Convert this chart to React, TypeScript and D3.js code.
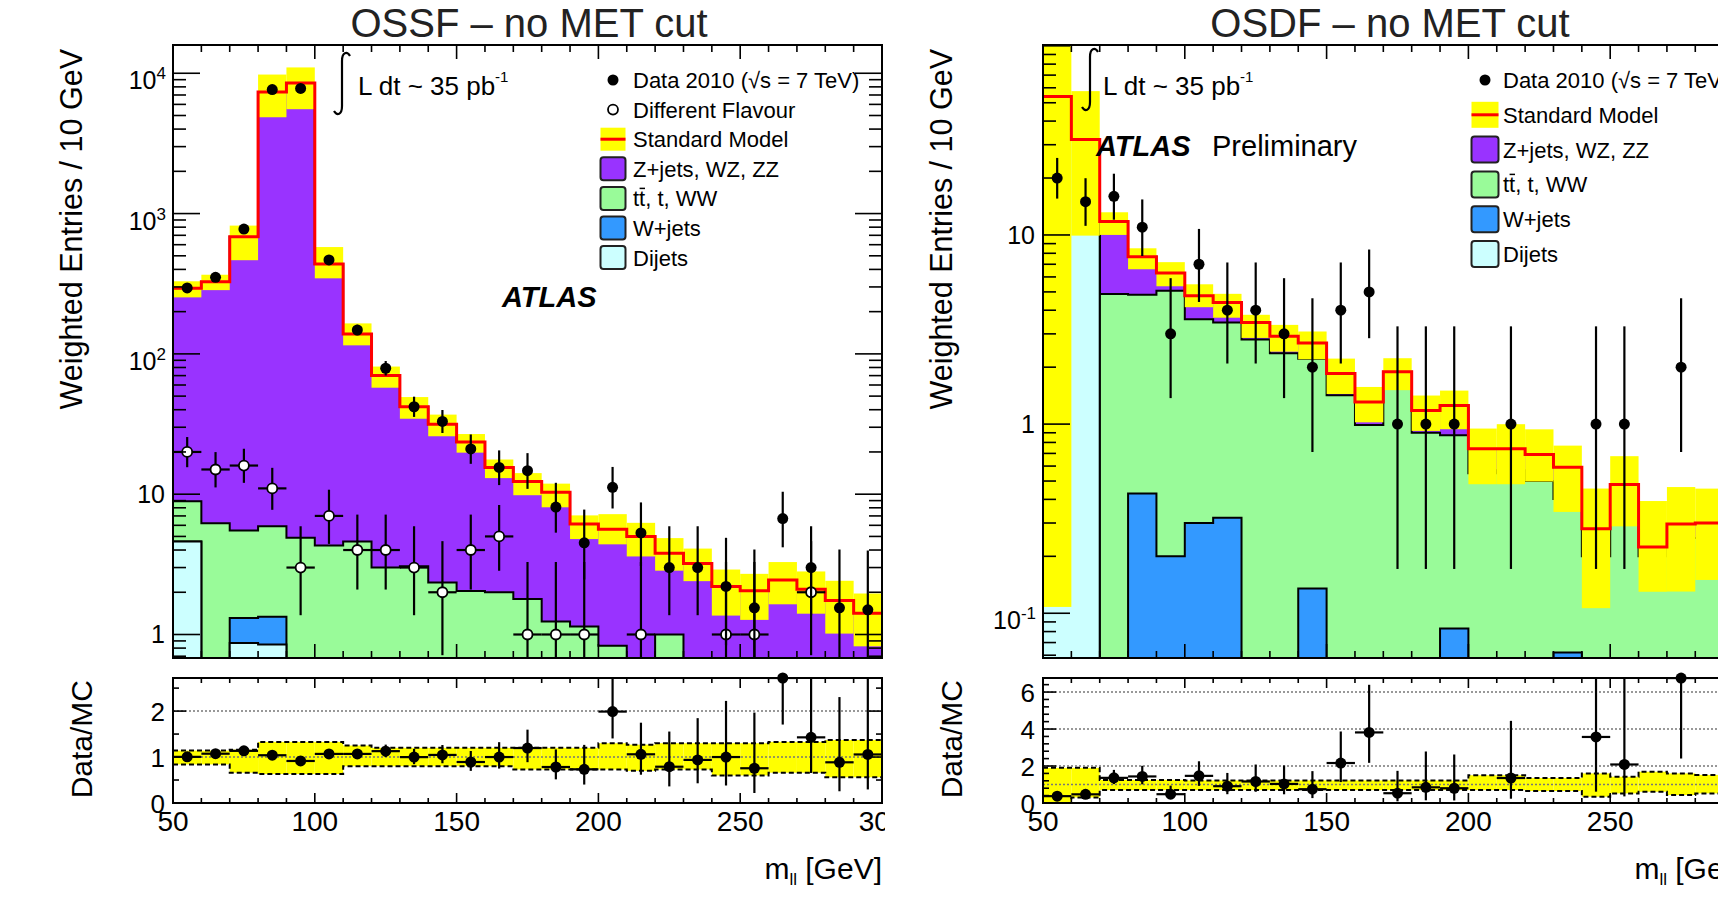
import React from 'react';
import * as d3 from 'd3';

// 10 GeV bins, lower edges
const binLow = [50, 60, 70, 80, 90, 100, 110, 120, 130, 140, 150, 160, 170, 180, 190, 200, 210, 220, 230, 240, 250, 260, 270, 280, 290];

// OSSF (left plot)
const ossfData = [295, 351, 776, 7650, 7800, 467, 148, 79, 42, 33, 21, 15.5, 14.7, 8.1, 4.5, 11.2, 5.3, 3, 3, 2.2, 1.55, 6.7, 3, 1.55, 1.5];
const ossfDijets = [4.6, 0, 0.87, 0.85, 0, 0, 0, 0, 0, 0, 0, 0, 0, 0, 0, 0, 0, 0, 0, 0, 0, 0, 0, 0, 0];
const ossfWjets = [0, 0, 0.44, 0.49, 0, 0, 0, 0, 0, 0, 0, 0, 0, 0, 0, 0, 0, 0, 0, 0, 0, 0, 0, 0, 0];
const ossfTop = [4.3, 6.2, 4.19, 4.56, 4.9, 4.3, 4.6, 3.0, 3.07, 2.35, 2.04, 2.0, 1.79, 1.24, 1.14, 0.83, 0.4, 1.0, 0.4, 0.3, 0.3, 0.25, 0.25, 0.2, 0.2];
const ossfZjets = [285, 321, 678.5, 7354, 8525, 433, 134, 67, 39, 29.2, 21.5, 13.5, 10.5, 9.1, 5.0, 4.8, 4.6, 2.8, 2.8, 1.9, 1.75, 2.2, 1.85, 1.55, 1.22];
// SM uncertainty band, relative (main pad, ratio pad)
const ossfErrUp = [0.12, 0.12, 0.2, 0.33, 0.29, 0.32, 0.19, 0.16, 0.17, 0.17, 0.14, 0.14, 0.15, 0.15, 0.15, 0.28, 0.25, 0.28, 0.28, 0.32, 0.32, 0.34, 0.34, 0.38, 0.38];
const ossfErrDn = [0.14, 0.13, 0.32, 0.34, 0.35, 0.21, 0.17, 0.18, 0.18, 0.18, 0.16, 0.16, 0.2, 0.22, 0.22, 0.22, 0.28, 0.25, 0.25, 0.38, 0.38, 0.33, 0.33, 0.42, 0.42];
const ossfRatioUp = [0.14, 0.14, 0.16, 0.33, 0.33, 0.33, 0.25, 0.2, 0.2, 0.2, 0.2, 0.2, 0.2, 0.2, 0.2, 0.3, 0.27, 0.3, 0.3, 0.3, 0.3, 0.33, 0.33, 0.37, 0.37];
const ossfRatioDn = [0.16, 0.16, 0.34, 0.37, 0.37, 0.37, 0.2, 0.2, 0.2, 0.2, 0.2, 0.2, 0.27, 0.27, 0.27, 0.27, 0.3, 0.27, 0.27, 0.4, 0.4, 0.34, 0.34, 0.44, 0.44];

// OSDF (right plot), also shown as "Different Flavour" on the left
const osdfData = [20, 15, 16, 11, 3, 7, 4, 4, 3, 2, 4, 5, 1, 1, 1, 0, 1, 0, 0, 1, 1, 0, 2, 0, 0];
const osdfDijets = [54, 32, 0, 0, 0, 0, 0, 0, 0, 0, 0, 0, 0, 0, 0, 0, 0, 0, 0, 0, 0, 0, 0, 0, 0];
const osdfWjets = [0, 0, 0, 0.43, 0.2, 0.3, 0.32, 0, 0, 0.135, 0, 0, 0, 0, 0.083, 0, 0, 0, 0.062, 0, 0, 0, 0, 0, 0];
const osdfTop = [0, 0, 4.87, 4.4, 4.87, 3.28, 3.12, 2.8, 2.37, 2.08, 1.42, 0.99, 1.54, 0.9, 0.79, 0.55, 0.57, 0.5, 0.34, 0.2, 0.42, 0.2, 0.25, 0.25, 0.25];
const osdfZjets = [0, 0, 6.9, 2.83, 1.23, 1.19, 0.96, 0.64, 0.54, 0.47, 0.43, 0.32, 0.35, 0.28, 0.38, 0.19, 0.17, 0.19, 0.19, 0.08, 0.06, 0.024, 0.046, 0.05, 0.05];
const osdfErrUp = [0.9, 0.8, 0.12, 0.11, 0.14, 0.15, 0.11, 0.1, 0.15, 0.15, 0.2, 0.2, 0.18, 0.2, 0.2, 0.28, 0.35, 0.36, 0.3, 0.63, 0.41, 0.75, 0.57, 0.52, 0.52];
const osdfErrDn = [0.998, 0.69, 0.15, 0.14, 0.15, 0.13, 0.17, 0.17, 0.17, 0.18, 0.22, 0.22, 0.2, 0.22, 0.25, 0.35, 0.35, 0.28, 0.42, 0.62, 0.4, 0.42, 0.56, 0.5, 0.5];
const osdfRatioUp = [0.9, 0.9, 0.25, 0.25, 0.25, 0.22, 0.22, 0.22, 0.22, 0.22, 0.22, 0.22, 0.22, 0.22, 0.22, 0.5, 0.5, 0.35, 0.35, 0.6, 0.42, 0.69, 0.6, 0.52, 0.52];
const osdfRatioDn = [0.998, 0.7, 0.3, 0.3, 0.3, 0.3, 0.3, 0.3, 0.3, 0.3, 0.3, 0.3, 0.3, 0.3, 0.3, 0.3, 0.3, 0.35, 0.35, 0.66, 0.48, 0.39, 0.57, 0.48, 0.48];

const ratioTicksL = [0, 0.5, 1, 1.5, 2, 2.5];
const ratioMajorL = [0, 1, 2];
const ratioTicksR = [0, 0.4, 0.8, 1.2, 1.6, 2, 2.4, 2.8, 3.2, 3.6, 4, 4.4, 4.8, 5.2, 5.6, 6, 6.4];
const ratioMajorR = [0, 2, 4, 6];

const FONT = '"Liberation Sans", Arial, Helvetica, sans-serif';
const W = 1718, H = 897;
const PLOT_W = 709;
const MAIN_TOP = 45, MAIN_BOT = 658, RAT_TOP = 678, RAT_BOT = 803;
const COL = { zjets: '#9933ff', top: '#99fb99', wjets: '#3399ff', dijets: '#ccffff', band: '#ffff00', sm: '#ff0000' };

// 68% Poisson interval (Wilson-Hilferty approx. of Garwood)
const poissonLo = (n: number) => {
  if (n <= 0) return 0;
  const k = 2 * n, a = 2 / (9 * k);
  return 0.5 * k * Math.pow(1 - a - Math.sqrt(a), 3);
};
const poissonHi = (n: number) => {
  const k = 2 * n + 2, a = 2 / (9 * k);
  return 0.5 * k * Math.pow(1 - a + Math.sqrt(a), 3);
};

function Integral({ x, y1, y2 }: { x: number; y1: number; y2: number }) {
  const d = `M${x + 8},${y1 + 3} C${x + 5},${y1 - 2} ${x},${y1 - 1} ${x},${y1 + 8} L${x},${y2 - 8} C${x},${y2 + 1} ${x - 5},${y2 + 2} ${x - 8},${y2 - 3}`;
  return <path d={d} fill="none" stroke="#000" strokeWidth={2.2} />;
}

type LegendCfg = { x: number; textX: number; y0: number; step: number; bw: number; bh: number };

type PanelProps = {
  id: string;
  x0: number;
  title: string;
  titleX: number;
  clip: [number, number];
  yDomain: [number, number];
  rDomain: [number, number];
  rTicks: number[];
  rMajor: number[];
  data: number[];
  diff?: number[];
  dijets: number[];
  wjets: number[];
  top: number[];
  zjets: number[];
  errUp: number[];
  errDn: number[];
  ratioUp: number[];
  ratioDn: number[];
  legend: LegendCfg;
  children?: React.ReactNode;
};

function Panel(p: PanelProps) {
  const x = d3.scaleLinear().domain([50, 300]).range([p.x0, p.x0 + PLOT_W]);
  const y = d3.scaleLog().domain(p.yDomain).range([MAIN_BOT, MAIN_TOP]);
  const r = d3.scaleLinear().domain(p.rDomain).range([RAT_BOT, RAT_TOP]);
  const rc = d3.scaleLinear().domain(p.rDomain).range([RAT_BOT, RAT_TOP]).clamp(true);
  const x1 = p.x0 + PLOT_W;
  const yc = (v: number) => (v > 0 ? Math.max(MAIN_TOP - 30, Math.min(MAIN_BOT + 30, y(v))) : MAIN_BOT + 30);

  const rows = binLow.map((lo, i) => ({ dijets: p.dijets[i], wjets: p.wjets[i], top: p.top[i], zjets: p.zjets[i] }));
  const series = d3.stack<any>().keys(['dijets', 'wjets', 'top', 'zjets'])(rows);
  const total = series[3].map((d) => d[1]);
  const layerColors = [COL.dijets, COL.wjets, COL.top, COL.zjets];

  const fillPath = (cum: number[]) => {
    let d = `M${x(50)},${MAIN_BOT + 30}`;
    cum.forEach((v, i) => {
      const yy = yc(v);
      d += `L${x(binLow[i])},${yy}L${x(binLow[i] + 10)},${yy}`;
    });
    return d + `L${x(300)},${MAIN_BOT + 30}Z`;
  };
  const stepLine = (vals: number[], f: (v: number) => number) =>
    vals.map((v, i) => `${i ? 'L' : 'M'}${x(binLow[i])},${f(v)}L${x(binLow[i] + 10)},${f(v)}`).join('');

  const xTicks = x.ticks(25);
  const yTicks = y.ticks();
  const isPow10 = (v: number) => Math.abs(Math.log10(v) - Math.round(Math.log10(v))) < 1e-6;

  const logLabel = (v: number, key: number) => {
    const e = Math.round(Math.log10(v));
    const ty = y(v);
    if (ty < MAIN_TOP + 4) return null;
    if (e === 0 || e === 1) {
      return (
        <text key={key} x={p.x0 - 8} y={ty + 9} textAnchor="end" fontSize={25}>
          {e === 0 ? '1' : '10'}
        </text>
      );
    }
    return (
      <text key={key} x={p.x0 - 7} y={ty + 16} textAnchor="end" fontSize={25}>
        10<tspan dy={-10} fontSize={17}>{e}</tspan>
      </text>
    );
  };

  const lg = p.legend;
  const entries: { kind: string; label: string; color?: string; bar?: boolean }[] = [
    { kind: 'data', label: 'Data 2010 (\u221As = 7 TeV)' },
    ...(p.diff ? [{ kind: 'open', label: 'Different Flavour' }] : []),
    { kind: 'sm', label: 'Standard Model' },
    { kind: 'box', color: COL.zjets, label: 'Z+jets, WZ, ZZ' },
    { kind: 'box', color: COL.top, label: 'tt, t, WW', bar: true },
    { kind: 'box', color: COL.wjets, label: 'W+jets' },
    { kind: 'box', color: COL.dijets, label: 'Dijets' },
  ];

  return (
    <g clipPath={`url(#${p.id}-all)`} fontFamily={FONT}>
      <defs>
        <clipPath id={`${p.id}-all`}>
          <rect x={p.clip[0]} y={0} width={p.clip[1] - p.clip[0]} height={H} />
        </clipPath>
        <clipPath id={`${p.id}-main`}>
          <rect x={p.x0} y={MAIN_TOP} width={PLOT_W} height={MAIN_BOT - MAIN_TOP} />
        </clipPath>
        <clipPath id={`${p.id}-rat`}>
          <rect x={p.x0} y={RAT_TOP} width={PLOT_W} height={RAT_BOT - RAT_TOP} />
        </clipPath>
      </defs>

      <text x={p.titleX} y={37} textAnchor="middle" fontSize={40} fill="#222">
        {p.title}
      </text>

      {/* main pad */}
      <g clipPath={`url(#${p.id}-main)`}>
        {[3, 2, 1, 0].map((k) => (
          <path key={k} d={fillPath(series[k].map((d) => d[1]))} fill={layerColors[k]} stroke="#000" strokeWidth={2} />
        ))}
        {total.map((t, i) => (
          <rect
            key={i}
            x={x(binLow[i])}
            width={x(binLow[i] + 10) - x(binLow[i])}
            y={yc(t * (1 + p.errUp[i]))}
            height={yc(t * (1 - p.errDn[i])) - yc(t * (1 + p.errUp[i]))}
            fill={COL.band}
          />
        ))}
        <path d={stepLine(total, yc)} fill="none" stroke={COL.sm} strokeWidth={3} />
        {p.diff &&
          p.diff.map((n, i) =>
            n > 0 ? (
              <g key={i} stroke="#000" strokeWidth={2.2}>
                <line x1={x(binLow[i])} x2={x(binLow[i] + 10)} y1={y(n)} y2={y(n)} />
                <line x1={x(binLow[i] + 5)} x2={x(binLow[i] + 5)} y1={yc(poissonHi(n))} y2={yc(poissonLo(n))} />
                <circle cx={x(binLow[i] + 5)} cy={y(n)} r={5} fill="#fff" strokeWidth={1.8} />
              </g>
            ) : null
          )}
        {p.data.map((n, i) =>
          n > 0 ? (
            <g key={i}>
              <line x1={x(binLow[i] + 5)} x2={x(binLow[i] + 5)} y1={yc(poissonHi(n))} y2={yc(poissonLo(n))} stroke="#000" strokeWidth={2.2} />
              <circle cx={x(binLow[i] + 5)} cy={y(n)} r={5.5} fill="#000" />
            </g>
          ) : null
        )}
      </g>
      <rect x={p.x0} y={MAIN_TOP} width={PLOT_W} height={MAIN_BOT - MAIN_TOP} fill="none" stroke="#000" strokeWidth={2} />

      {/* main ticks */}
      <g stroke="#000" strokeWidth={1.6}>
        {xTicks.map((t) => {
          const len = t % 50 === 0 ? 14 : 7;
          return (
            <g key={t}>
              <line x1={x(t)} x2={x(t)} y1={MAIN_BOT} y2={MAIN_BOT - len} />
              <line x1={x(t)} x2={x(t)} y1={MAIN_TOP} y2={MAIN_TOP + len} />
            </g>
          );
        })}
        {yTicks.map((t, i) => {
          const len = isPow10(t) ? 27 : 13;
          return (
            <g key={i}>
              <line x1={p.x0} x2={p.x0 + len} y1={y(t)} y2={y(t)} />
              <line x1={x1} x2={x1 - len} y1={y(t)} y2={y(t)} />
            </g>
          );
        })}
      </g>
      <g fill="#000">{yTicks.filter(isPow10).map((t, i) => logLabel(t, i))}</g>
      <text transform={`translate(${p.x0 - 91},${MAIN_TOP + 4}) rotate(-90)`} textAnchor="end" fontSize={30.5}>
        Weighted Entries / 10 GeV
      </text>

      {/* legend */}
      {entries.map((e, i) => {
        const cy = lg.y0 + i * lg.step;
        return (
          <g key={i}>
            {e.kind === 'data' && <circle cx={lg.x} cy={cy} r={5.5} fill="#000" />}
            {e.kind === 'open' && <circle cx={lg.x} cy={cy} r={5} fill="#fff" stroke="#000" strokeWidth={1.8} />}
            {e.kind === 'sm' && (
              <g>
                <rect x={lg.x - lg.bw / 2} y={cy - lg.bh / 2} width={lg.bw} height={lg.bh} fill={COL.band} />
                <line x1={lg.x - lg.bw / 2} x2={lg.x + lg.bw / 2} y1={cy} y2={cy} stroke={COL.sm} strokeWidth={3} />
              </g>
            )}
            {e.kind === 'box' && (
              <rect x={lg.x - lg.bw / 2} y={cy - lg.bh / 2} width={lg.bw} height={lg.bh} rx={3} fill={e.color} stroke="#222" strokeWidth={2} />
            )}
            <text x={lg.textX} y={cy + 8} fontSize={22}>
              {e.label}
            </text>
            {e.bar && <line x1={lg.textX + 6.6} x2={lg.textX + 12} y1={cy - 10} y2={cy - 10} stroke="#000" strokeWidth={1.5} />}
          </g>
        );
      })}

      {/* ratio pad */}
      <g clipPath={`url(#${p.id}-rat)`}>
        {total.map((t, i) => (
          <rect
            key={i}
            x={x(binLow[i])}
            width={x(binLow[i] + 10) - x(binLow[i])}
            y={r(1 + p.ratioUp[i])}
            height={r(1 - p.ratioDn[i]) - r(1 + p.ratioUp[i])}
            fill={COL.band}
          />
        ))}
        <path d={stepLine(p.ratioUp.map((u) => 1 + u), r)} fill="none" stroke="#000" strokeWidth={2} strokeDasharray="5,3" />
        <path d={stepLine(p.ratioDn.map((u) => 1 - u), r)} fill="none" stroke="#000" strokeWidth={2} strokeDasharray="5,3" />
        {[1, ...p.rMajor.filter((m) => m > 1)].map((m) => (
          <line key={m} x1={p.x0} x2={x1} y1={r(m)} y2={r(m)} stroke="#777" strokeWidth={1.5} strokeDasharray="2,2" />
        ))}
        {p.data.map((n, i) =>
          n > 0 ? (
            <g key={i} stroke="#000" strokeWidth={2.2}>
              <line x1={x(binLow[i])} x2={x(binLow[i] + 10)} y1={rc(n / total[i])} y2={rc(n / total[i])} />
              <line
                x1={x(binLow[i] + 5)}
                x2={x(binLow[i] + 5)}
                y1={rc(poissonHi(n) / total[i])}
                y2={rc(poissonLo(n) / total[i])}
              />
            </g>
          ) : null
        )}
      </g>
      {p.data.map((n, i) => (n > 0 ? <circle key={i} cx={x(binLow[i] + 5)} cy={rc(n / total[i])} r={5.5} fill="#000" /> : null))}
      <rect x={p.x0} y={RAT_TOP} width={PLOT_W} height={RAT_BOT - RAT_TOP} fill="none" stroke="#000" strokeWidth={2} />
      <g stroke="#000" strokeWidth={1.6}>
        {xTicks.map((t) => {
          const len = t % 50 === 0 ? 10 : 5;
          return (
            <g key={t}>
              <line x1={x(t)} x2={x(t)} y1={RAT_BOT} y2={RAT_BOT - len} />
              <line x1={x(t)} x2={x(t)} y1={RAT_TOP} y2={RAT_TOP + len} />
            </g>
          );
        })}
        {p.rTicks.map((t) => {
          const len = p.rMajor.includes(t) ? 13 : 6;
          return (
            <g key={t}>
              <line x1={p.x0} x2={p.x0 + len} y1={r(t)} y2={r(t)} />
              <line x1={x1} x2={x1 - len} y1={r(t)} y2={r(t)} />
            </g>
          );
        })}
      </g>
      {p.rMajor.map((m) => (
        <text key={m} x={p.x0 - 8} y={r(m) + 10} textAnchor="end" fontSize={26}>
          {m}
        </text>
      ))}
      <text transform={`translate(${p.x0 - 81},${RAT_TOP + 2}) rotate(-90)`} textAnchor="end" fontSize={30}>
        Data/MC
      </text>
      {xTicks
        .filter((t) => t % 50 === 0)
        .map((t) => (
          <text key={t} x={x(t)} y={831} textAnchor="middle" fontSize={28}>
            {t}
          </text>
        ))}
      <text x={x1} y={879} textAnchor="end" fontSize={30}>
        m<tspan fontSize={17} dy={6}>ll</tspan>
        <tspan dy={-6}> [GeV]</tspan>
      </text>

      {p.children}
    </g>
  );
}

export default function App() {
  return (
    <svg width={W} height={H} style={{ position: 'absolute', left: 0, top: 0, background: '#fff' }} fontFamily={FONT}>
      <rect width={W} height={H} fill="#fff" />
      <Panel
        id="ossf"
        x0={173}
        title="OSSF – no MET cut"
        titleX={529}
        clip={[0, 885]}
        yDomain={[0.68, 15900]}
        rDomain={[0, 2.72]}
        rTicks={ratioTicksL}
        rMajor={ratioMajorL}
        data={ossfData}
        diff={osdfData}
        dijets={ossfDijets}
        wjets={ossfWjets}
        top={ossfTop}
        zjets={ossfZjets}
        errUp={ossfErrUp}
        errDn={ossfErrDn}
        ratioUp={ossfRatioUp}
        ratioDn={ossfRatioDn}
        legend={{ x: 613, textX: 633, y0: 80, step: 29.6, bw: 25, bh: 23 }}
      >
        <Integral x={342} y1={53} y2={114} />
        <text x={358} y={95} fontSize={26}>
          L dt ~ 35 pb<tspan dy={-13} fontSize={15}>-1</tspan>
        </text>
        <text x={502} y={307} fontSize={29} fontWeight="bold" fontStyle="italic">
          ATLAS
        </text>
      </Panel>
      <Panel
        id="osdf"
        x0={1043}
        title="OSDF – no MET cut"
        titleX={1390}
        clip={[890, W]}
        yDomain={[0.058, 101]}
        rDomain={[0, 6.76]}
        rTicks={ratioTicksR}
        rMajor={ratioMajorR}
        data={osdfData}
        dijets={osdfDijets}
        wjets={osdfWjets}
        top={osdfTop}
        zjets={osdfZjets}
        errUp={osdfErrUp}
        errDn={osdfErrDn}
        ratioUp={osdfRatioUp}
        ratioDn={osdfRatioDn}
        legend={{ x: 1485, textX: 1503, y0: 80, step: 34.8, bw: 27, bh: 26 }}
      >
        <Integral x={1090} y1={49} y2={110} />
        <text x={1103} y={95} fontSize={26}>
          L dt ~ 35 pb<tspan dy={-13} fontSize={15}>-1</tspan>
        </text>
        <text x={1096} y={156} fontSize={29} fontWeight="bold" fontStyle="italic">
          ATLAS
        </text>
        <text x={1212} y={156} fontSize={29}>
          Preliminary
        </text>
      </Panel>
    </svg>
  );
}
